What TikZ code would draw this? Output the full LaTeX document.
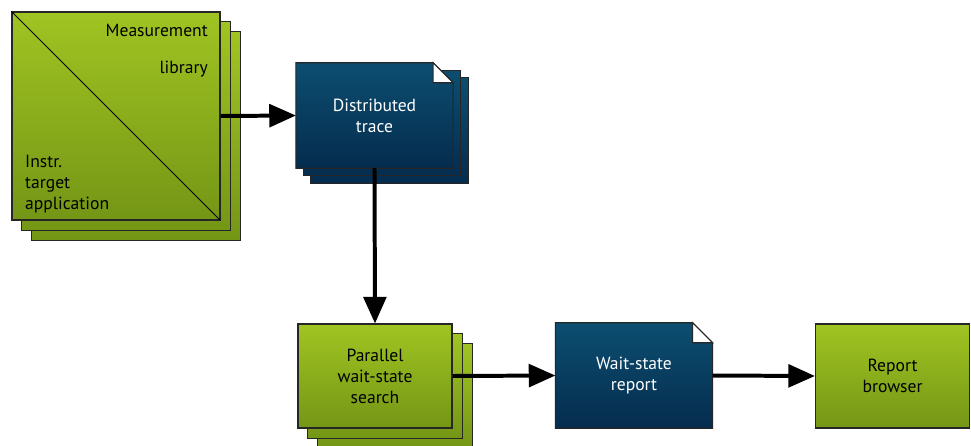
\documentclass[tikz,border=0pt]{standalone}
\usepackage{fontspec}
\setmainfont{PT Sans}
\usetikzlibrary{arrows.meta,positioning,calc,backgrounds}
\definecolor{greentop}{RGB}{160,196,34}
\definecolor{greenbot}{RGB}{116,150,22}
\definecolor{bluetop}{RGB}{12,78,112}
\definecolor{bluebot}{RGB}{5,44,78}

\tikzset{
  greenfill/.style={draw=black!85,line width=0.9pt,top color=greentop,bottom color=greenbot},
  bluefill/.style={draw=black!85,line width=0.9pt,top color=bluetop,bottom color=bluebot},
  toolbox/.style={greenfill,minimum width=4.62cm,minimum height=3.12cm,align=center,inner sep=0pt},
  docbox/.style={minimum width=4.7cm,minimum height=3.15cm,align=center,inner sep=0pt,text=white},
  flow/.style={line width=3.4pt,-{Triangle[length=0.8cm,width=0.68cm]}},
}

\begin{document}
\begin{tikzpicture}[x=0.03cm,y=-0.03cm,font=\fontsize{15}{18}\selectfont]
  \useasboundingbox (0,0) rectangle (971,446);

  % instrumented application
  \node[greenfill,minimum width=6.24cm,minimum height=6.24cm] (meas) at (116,116){};
  \draw[line width=0.8pt] (meas.north west) -- (meas.south east);
  \node[anchor=base east,inner sep=0pt] (mlib1) at (208,36){Measurement};
  \node[anchor=base east,inner sep=0pt] (mlib2) at (208,73){library};
  \node[anchor=south west,inner sep=0pt,align=left] (instr) at (25,213){Instr.\\target\\application};

  % documents and tools
  \node[docbox] (trace) at (374.5,115.5){Distributed\\trace};
  \node[toolbox] (search) at (375,376){Parallel\\wait-state\\search};
  \node[docbox] (report) at (634,375.5){Wait-state\\report};
  \node[toolbox] (browser) at (892.5,376){Report\\browser};

  \begin{scope}[on background layer]
    \foreach \d in {20,10}{
      \path[greenfill] ($(meas.north west)+(\d,\d)$) rectangle ($(meas.south east)+(\d,\d)$);
      \path[greenfill] ($(search.north west)+(\d,\d)$) rectangle ($(search.south east)+(\d,\d)$);
    }
    \foreach \d in {15,7.5}
      \path[bluefill] ($(trace.north west)+(\d,\d)$) rectangle ($(trace.south east)+(\d,\d)$);
    \foreach \doc in {trace,report}{
      \path[bluefill] (\doc.north west) -- ($(\doc.north east)+(-20,0)$) -- ($(\doc.north east)+(0,20)$)
        -- (\doc.south east) -- (\doc.south west) -- cycle;
      \draw[line width=0.9pt,draw=black!85,fill=white] ($(\doc.north east)+(-20,0)$) -- ($(\doc.north east)+(-20,20)$)
        -- ($(\doc.north east)+(0,20)$) -- cycle;
    }
  \end{scope}

  \draw[flow] (meas.east) -- (trace.west);
  \draw[flow] (trace.south) -- (search.north);
  \draw[flow] (search.east) -- (report.west);
  \draw[flow] (report.east) -- (browser.west);
\end{tikzpicture}
\end{document}
